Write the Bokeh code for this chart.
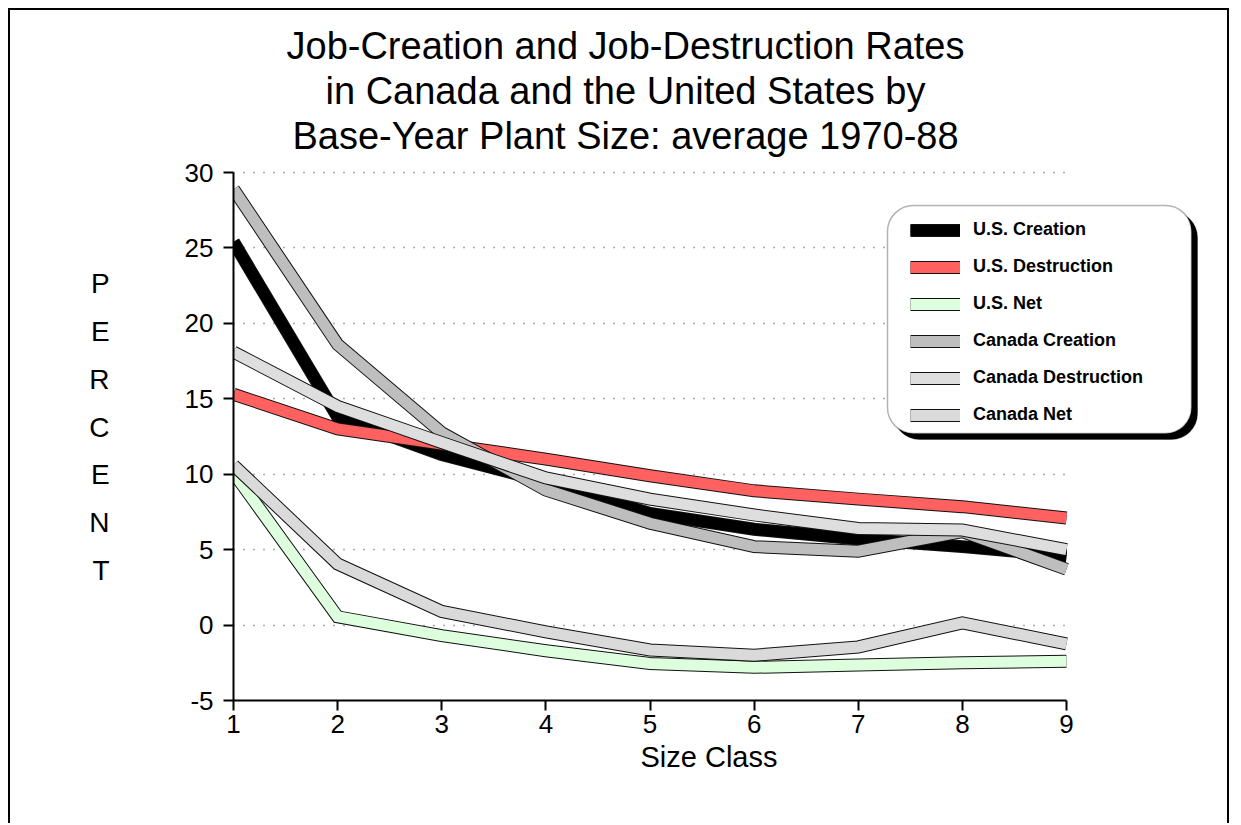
from bokeh.plotting import figure
from bokeh.models import (Range1d, FixedTicker, Legend, LegendItem, BoxAnnotation, Label, Title)
from bokeh.embed import file_html
from bokeh.resources import INLINE

# ---------------- data ----------------
size_class = [1, 2, 3, 4, 5, 6, 7, 8, 9]
us_creation = [25.4, 13.8, 11.3, 9.5, 7.4, 6.35, 5.7, 5.2, 4.6]
us_destruction = [15.3, 13.0, 12.0, 11.0, 9.9, 8.9, 8.35, 7.85, 7.1]
us_net = [10.1, 0.55, -0.7, -1.7, -2.55, -2.8, -2.65, -2.5, -2.4]
canada_creation = [28.9, 18.6, 12.75, 8.95, 6.75, 5.2, 4.9, 6.2, 3.7]
canada_destruction = [18.1, 14.5, 12.1, 9.75, 8.35, 7.3, 6.4, 6.3, 5.0]
canada_net = [10.6, 4.05, 0.9, -0.45, -1.65, -2.0, -1.45, 0.15, -1.25]

series_names = ["U.S. Creation", "U.S. Destruction", "U.S. Net",
                "Canada Creation", "Canada Destruction", "Canada Net"]
series_values = [us_creation, us_destruction, us_net,
                 canada_creation, canada_destruction, canada_net]
series_colors = ["#000000", "#FF6161", "#DEFFDE", "#BEBEBE", "#DEDEDE", "#DADADA"]

y_ticks = [-5, 0, 5, 10, 15, 20, 25, 30]
title_lines = ["Job-Creation and Job-Destruction Rates",
               "in Canada and the United States by",
               "Base-Year Plant Size: average 1970-88"]
y_label = "\n\n\n" + "\n".join("PERCENT")
x_label = "Size Class"

FONT = "Liberation Sans"

# ---------------- layout (page coordinates) ----------------
OX, OY = 10, 10                 # canvas origin on the page (after css margin+border)
PAGE_R, PAGE_B = 1231, 825
X1_PX, X9_PX = 233, 1066        # page x of size class 1 and 9
YT_PX, YB_PX = 172, 700         # page y of 30 and -5
W = PAGE_R - OX
H = PAGE_B - OY
ML = X1_PX - OX
MB = PAGE_B - YB_PX
MT, MR = 0, 0
px_per_x = (X9_PX - X1_PX) / 8.0
px_per_y = (YB_PX - YT_PX) / 35.0
x_end = 1 + (PAGE_R - X1_PX) / px_per_x
y_end = 30 + (YT_PX - OY - MT) / px_per_y

p = figure(width=W, height=H, x_range=Range1d(1, x_end), y_range=Range1d(-5, y_end),
           output_backend="svg", toolbar_location=None,
           min_border_left=ML, min_border_right=MR, min_border_top=MT, min_border_bottom=MB)
p.styles = {"margin-left": "8px", "margin-top": "8px",
            "border-left": "2px solid black", "border-top": "2px solid black",
            "border-right": "2px solid black"}
p.outline_line_color = None
p.background_fill_color = "white"
p.border_fill_color = "white"

# axes
p.xaxis.ticker = FixedTicker(ticks=size_class)
p.xaxis.bounds = (1, 9)
p.yaxis.ticker = FixedTicker(ticks=y_ticks)
p.yaxis.bounds = (-5, 30)
p.yaxis.major_label_overrides = {t: str(t) for t in y_ticks}
for ax in (p.xaxis, p.yaxis):
    ax.axis_line_width = 2
    ax.axis_line_color = "black"
    ax.major_tick_line_width = 2
    ax.major_tick_line_color = "black"
    ax.major_tick_in = 0
    ax.major_tick_out = 10
    ax.minor_tick_line_color = None
    ax.major_label_text_font = FONT
    ax.major_label_text_font_size = "26px"
    ax.major_label_text_color = "black"
p.yaxis.major_label_standoff = 10
p.xaxis.major_label_standoff = 4
p.yaxis.axis_label = y_label
p.yaxis.axis_label_orientation = "horizontal"
p.yaxis.axis_label_text_font = FONT
p.yaxis.axis_label_text_font_size = "28px"
p.yaxis.axis_label_text_font_style = "normal"
p.yaxis.axis_label_text_color = "black"
p.yaxis.axis_label_text_line_height = 1.54
p.yaxis.axis_label_text_align = "center"
p.yaxis.axis_label_standoff = 72

# x axis title below, left-aligned with offset from the frame's left edge
p.add_layout(Title(text=x_label, align="left", offset=640 - X1_PX,
                   text_font=FONT, text_font_size="29px", text_font_style="normal",
                   text_color="black", standoff=6), "below")

# grid
p.xgrid.visible = False
g = p.ygrid[0]
g.ticker = FixedTicker(ticks=y_ticks)
g.grid_line_color = "#555555"
g.grid_line_dash = "1 9"
g.grid_line_width = 1.5
g.bounds = (-5, 30)
if "cross_bounds" in g.properties():
    g.cross_bounds = (1, 9)

# band lines
legend_items = []
for name, vals, col in zip(series_names, series_values, series_colors):
    r1 = p.line(size_class, vals, line_width=13, line_color="#111111",
                line_join="miter", line_cap="butt")
    r2 = p.line(size_class, vals, line_width=11, line_color=col,
                line_join="miter", line_cap="butt")
    legend_items.append(LegendItem(label=name, renderers=[r1, r2]))

# frame-relative screen helpers (from page coordinates)
def sx(px):
    return px - X1_PX

def sy(py):
    return YB_PX - py

# legend shadow and box
p.add_layout(BoxAnnotation(left=sx(893), right=sx(1197), top=sy(211), bottom=sy(439),
                           left_units="screen", right_units="screen",
                           top_units="screen", bottom_units="screen",
                           fill_color="black", fill_alpha=1, line_color="black",
                           border_radius=26))
p.add_layout(BoxAnnotation(left=sx(887), right=sx(1191), top=sy(205), bottom=sy(433),
                           left_units="screen", right_units="screen",
                           top_units="screen", bottom_units="screen",
                           fill_color="white", fill_alpha=1, line_color="black",
                           line_width=1.5, border_radius=26))

legend = Legend(items=legend_items,
                location=(sx(910), sy(425)), orientation="vertical",
                glyph_width=50, glyph_height=14, label_standoff=13, spacing=16,
                padding=0, margin=0, border_line_color=None, background_fill_alpha=0,
                label_text_font=FONT, label_text_font_size="18px",
                label_text_font_style="bold", label_text_color="black")
p.add_layout(legend)

# title lines
for i, t in enumerate(title_lines):
    p.add_layout(Label(x=sx(625), y=sy(45 + 45 * i), x_units="screen", y_units="screen",
                       text=t, text_font=FONT, text_font_size="38px",
                       text_align="center", text_baseline="middle", text_color="black"))

open("out.html", "w").write(file_html(p, INLINE))
